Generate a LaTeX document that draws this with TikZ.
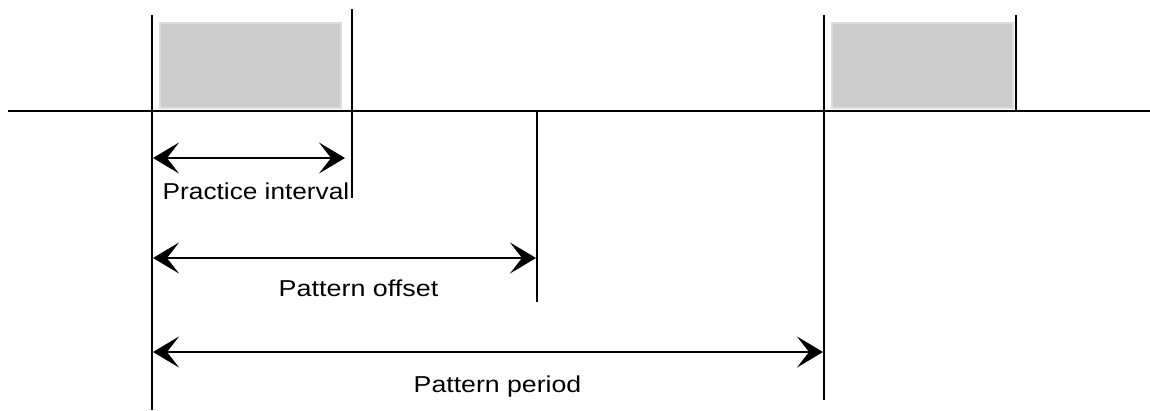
\documentclass[tikz,border=0pt]{standalone}
\usepackage{fontspec}
\usepackage{graphicx}
\setmainfont{Liberation Sans}
\usetikzlibrary{arrows.meta}
\begin{document}
\begin{tikzpicture}[x=1pt,y=-1pt,
  rule/.style={line width=2pt,black},
  slot/.style={fill={rgb,255:red,204;green,204;blue,204},draw={rgb,255:red,221;green,221;blue,221},line width=1.5pt},
  dim/.style={line width=2pt,{Stealth[length=26pt,width=31pt,inset=12pt]}-{Stealth[length=26pt,width=31pt,inset=12pt]}},
  lbl/.style={anchor=base,inner sep=0pt,font=\fontsize{23}{27}\selectfont}
]
\useasboundingbox (0,0) rectangle (1150,410);
% coordinates
\coordinate (base-l) at (8,111);
\coordinate (base-r) at (1150,111);
\coordinate (a-top) at (152,15);
\coordinate (a-bot) at (152,410);
\coordinate (b-top) at (352,9);
\coordinate (b-bot) at (352,198);
\coordinate (c-top) at (537,111);
\coordinate (c-bot) at (537,302);
\coordinate (d-top) at (824,15);
\coordinate (d-bot) at (824,400);
\coordinate (e-top) at (1016,15);
\coordinate (e-bot) at (1016,111);
% gray slots
\node[slot,minimum width=181pt,minimum height=85pt,inner sep=0pt,anchor=north west] (slot1) at (159,22) {};
\node[slot,minimum width=181pt,minimum height=85pt,inner sep=0pt,anchor=north west] (slot2) at (831,22) {};
% rules
\draw[rule] (base-l) -- (base-r);
\draw[rule] (a-top) -- (a-bot);
\draw[rule] (b-top) -- (b-bot);
\draw[rule] (c-top) -- (c-bot);
\draw[rule] (d-top) -- (d-bot);
\draw[rule] (e-top) -- (e-bot);
% arrows
\coordinate (p1s) at (153,158);
\coordinate (p1e) at (345,158);
\coordinate (p2s) at (153,258);
\coordinate (p2e) at (536,258);
\coordinate (p3s) at (153,352);
\coordinate (p3e) at (823,352);
\draw[dim] (p1s) -- (p1e);
\draw[dim] (p2s) -- (p2e);
\draw[dim] (p3s) -- (p3e);
% labels
\node[lbl] (t1) at (256,199) {\scalebox{1.14}[1]{Practice interval}};
\node[lbl] (t2) at (358.5,296) {\scalebox{1.17}[1]{Pattern offset}};
\node[lbl] (t3) at (497.5,392) {\scalebox{1.16}[1]{Pattern period}};
\end{tikzpicture}
\end{document}
